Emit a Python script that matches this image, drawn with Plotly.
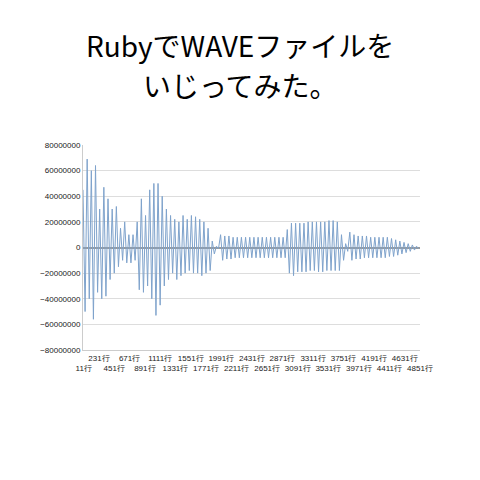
import plotly.graph_objects as go

# envelope peaks, in millions, one pair every 60 samples
pos_m = [45,69,60,64,30,47,38,30,32,15,20, 10,10,20,38,25,45,50,50,40,30,
         25,22,20,25,22,25,24,22,20,15, 5,1,
         10,9,9,8,8,8,8,8,8,8,8,8,8,8,8,8, 14,
         19,19,19,19,20,20,20,20,20,21,21,20, 10,3, 12,
         10,9,9,9,8,8,8,8,8,7,6, 5,4,3,2,1]
neg_m = [-50,-40,-56,-35,-40,-38,-25,-20,-15,-10,-12, -12,-10,-33,-35,-30,-40,-53,-45,-30,-25,
         -20,-25,-22,-20,-18,-20,-20,-22,-20,-18, -5,-1,
         -10,-9,-9,-8,-8,-8,-8,-8,-8,-8,-8,-8,-8,-8,-8,-8, -20,
         -22,-19,-19,-19,-18,-18,-19,-19,-18,-18,-18,-18, -10,-3, -10,
         -9,-9,-8,-8,-8,-8,-8,-8,-7,-7,-6, -5,-4,-3,-2,-1]
step = 60
tick_rows = list(range(11, 4852, 220))
title_lines = ["RubyでWAVEファイルを", "いじってみた。"]

xs, ys = [], []
for i, (p, n) in enumerate(zip(pos_m, neg_m)):
    xs += [i*step + 1, i*step + 31]
    ys += [p*1e6, n*1e6]

ticktext = [(f"{r}行" if k % 2 else f"<br>{r}行") for k, r in enumerate(tick_rows)]

L, R, T, B = 75, 68, 137, 138
PW, PH = 480 - L - R, 480 - T - B
fig = go.Figure(go.Scatter(x=xs, y=ys, mode="lines",
                           line=dict(color="#7fa3cc", width=1)))
fig.update_layout(
    width=480, height=480, margin=dict(l=L, r=R, t=T, b=B, autoexpand=False),
    paper_bgcolor="white", plot_bgcolor="white", showlegend=False,
    font=dict(family="Liberation Sans", size=8, color="#222"),
)
for j, t in enumerate(title_lines):
    fig.add_annotation(text=t, xref="paper", yref="paper", x=(232 - L) / PW,
                       y=1 + (T - 37 - 40*j) / PH,
                       xanchor="center", yanchor="middle", showarrow=False,
                       font=dict(family="Noto Sans CJK JP", size=28, color="black"))
fig.update_xaxes(range=[1, 4851], tickvals=tick_rows, ticktext=ticktext, tickangle=0,
                 showgrid=False, zeroline=False, showline=True, linecolor="#ccc",
                 tickfont=dict(size=8))
fig.update_yaxes(range=[-80e6, 80e6], dtick=20e6, tickformat="d", gridcolor="#ddd",
                 zeroline=True, zerolinecolor="#999", showline=True, linecolor="#ccc",
                 tickfont=dict(size=8))
fig.write_html("out.html")
